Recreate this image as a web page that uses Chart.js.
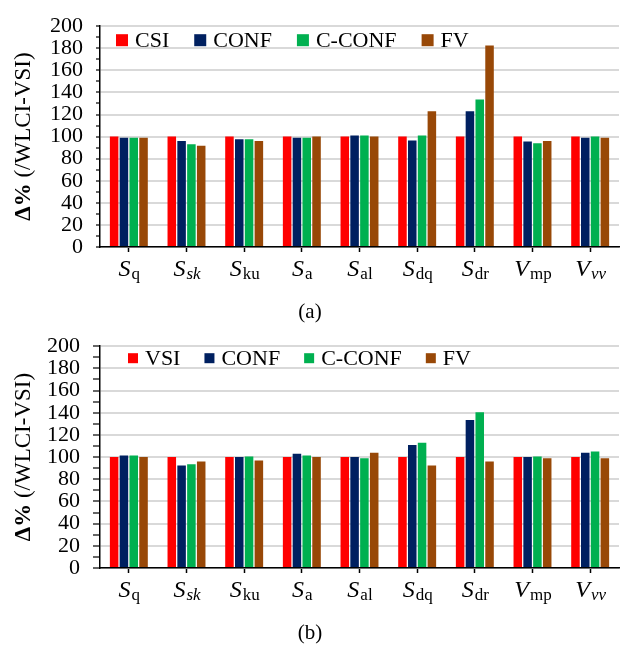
<!DOCTYPE html>
<html lang="en">
<head>
  <meta charset="UTF-8" />
  <title>Δ% (/WLCI-VSI)</title>
  <script src="https://cdn.jsdelivr.net/npm/chart.js"></script>
  <style>
    body { margin: 0; background: #fff; width: 620px; height: 646px; position: relative; overflow: hidden; }
    .box { position: absolute; left: 0; width: 620px; }
    #boxA { top: 0; height: 320px; }
    #boxB { top: 320px; height: 326px; }
    .cap { position: absolute; left: 0; width: 620px; text-align: center; font: 21px "Liberation Serif", serif; line-height: 24px; }
  </style>
</head>
<body>
  <div class="box" id="boxA"><canvas id="chartA"></canvas></div>
  <div class="box" id="boxB"><canvas id="chartB"></canvas></div>
  <div class="cap" style="top:299px">(a)</div>
  <div class="cap" style="top:620px">(b)</div>

  <script>
    // categories: main symbol + subscript (some subscripts italic)
    const catMain = ["S", "S", "S", "S", "S", "S", "S", "V", "V"];
    const catSub = ["q", "sk", "ku", "a", "al", "dq", "dr", "mp", "vv"];
    const catSubItalic = [false, true, false, false, false, false, false, false, true];

    // chart (a)
    const namesA = ["CSI", "CONF", "C-CONF", "FV"];
    const csiA   = [100, 100, 100, 100, 100, 100, 100, 100, 100];
    const confA  = [99, 96, 97.6, 99, 101, 96.5, 123, 95.5, 99];
    const cconfA = [99, 93, 97.6, 99, 101, 101, 133.5, 94, 100];
    const fvA    = [99, 91.7, 96, 100, 100, 123, 182.5, 96, 99];

    // chart (b)
    const namesB = ["VSI", "CONF", "C-CONF", "FV"];
    const vsiB   = [100, 100, 100, 100, 100, 100, 100, 100, 100];
    const confB  = [101.5, 92.5, 100, 103, 100, 111, 133.5, 100, 104];
    const cconfB = [101.5, 93.5, 100.5, 101.5, 99, 113, 140.5, 100.5, 105];
    const fvB    = [100, 96, 97, 100, 104, 92.5, 96, 99, 99];

    const colors = ["#FF0000", "#002060", "#00B050", "#984807"];
    const yTitleBold = "Δ%";
    const yTitleRest = " (/WLCI-VSI)";
    const serif = '"Liberation Serif", "Times New Roman", serif';

    // draws mixed-style x labels, the in-plot legend and the y title
    const extras = {
      id: "extras",
      afterDraw(chart, args, opts) {
        const ctx = chart.ctx;
        const a = chart.chartArea;
        const xs = chart.scales.x;
        ctx.save();
        ctx.fillStyle = "#000";
        ctx.textAlign = "left";
        ctx.textBaseline = "alphabetic";

        // x labels
        catMain.forEach((m, i) => {
          const cx = xs.getPixelForValue(i);
          const mainFont = "italic 24px " + serif;
          const subFont = (catSubItalic[i] ? "italic " : "") + "17px " + serif;
          ctx.font = mainFont;
          const wm = ctx.measureText(m).width;
          ctx.font = subFont;
          const ws = ctx.measureText(catSub[i]).width;
          const x = cx - (wm + ws) / 2;
          const y = a.bottom + 29;
          ctx.font = mainFont;
          ctx.fillText(m, x, y);
          ctx.font = subFont;
          ctx.fillText(catSub[i], x + wm + 1, y + 3);
        });

        // legend
        ctx.font = "22px " + serif;
        ctx.textBaseline = "middle";
        let lx = a.left + opts.lx;
        const ly = a.top + opts.ly;
        chart.data.datasets.forEach(ds => {
          ctx.fillStyle = ds.backgroundColor;
          ctx.fillRect(lx, ly - opts.box / 2, opts.box, opts.box);
          ctx.fillStyle = "#000";
          const tx = lx + opts.box + 7;
          ctx.fillText(ds.label, tx, ly + 1);
          lx = tx + ctx.measureText(ds.label).width + opts.gap;
        });

        // y title
        ctx.translate(24, (a.top + a.bottom) / 2);
        ctx.rotate(-Math.PI / 2);
        ctx.font = "bold 23px " + serif;
        const wb = ctx.measureText(yTitleBold).width;
        ctx.font = "23px " + serif;
        const wr = ctx.measureText(yTitleRest).width;
        const tx = -(wb + wr) / 2;
        ctx.font = "bold 23px " + serif;
        ctx.fillText(yTitleBold, tx, 0);
        ctx.font = "23px " + serif;
        ctx.fillText(yTitleRest, tx + wb, 0);
        ctx.restore();
      }
    };

    function makeChart(id, names, series, ex) {
      return new Chart(document.getElementById(id), {
        type: "bar",
        data: {
          labels: catMain.map((m, i) => m + catSub[i]),
          datasets: series.map((d, k) => ({
            label: names[k],
            data: d,
            backgroundColor: colors[k],
            categoryPercentage: 0.68,
            barPercentage: 0.87
          }))
        },
        options: {
          responsive: true,
          maintainAspectRatio: false,
          animation: false,
          layout: { padding: { top: 22, right: 1, left: 0, bottom: 0 } },
          plugins: {
            legend: { display: false },
            tooltip: { enabled: false },
            extras: ex
          },
          scales: {
            x: {
              grid: { offset: false, drawOnChartArea: false, tickLength: 5, tickColor: "#000", tickWidth: 1.5 },
              border: { color: "#000", width: 1.5 },
              ticks: { display: false },
              afterFit(s) { s.height = ex.xh; }
            },
            y: {
              min: 0,
              max: 200,
              ticks: {
                stepSize: 10,
                autoSkip: false,
                padding: 13,
                color: "#000",
                font: { family: serif, size: 22 },
                callback: v => (v % 20 === 0 ? v : "")
              },
              grid: {
                color: c => (c.tick && c.tick.value % 20 === 0 ? "#D9D9D9" : "rgba(0,0,0,0)"),
                lineWidth: 2,
                tickColor: "#000",
                tickWidth: 1.2,
                tickLength: ex.tl
              },
              border: { color: "#000", width: 1.5 },
              afterFit(s) { s.width = 100; }
            }
          }
        },
        plugins: [extras]
      });
    }

    makeChart("chartA", namesA, [csiA, confA, cconfA, fvA], { xh: 73, tl: 4, lx: 16, ly: 14, box: 12, gap: 25 });
    makeChart("chartB", namesB, [vsiB, confB, cconfB, fvB], { xh: 78, tl: 7, lx: 28, ly: 12, box: 10, gap: 24 });
  </script>
</body>
</html>
